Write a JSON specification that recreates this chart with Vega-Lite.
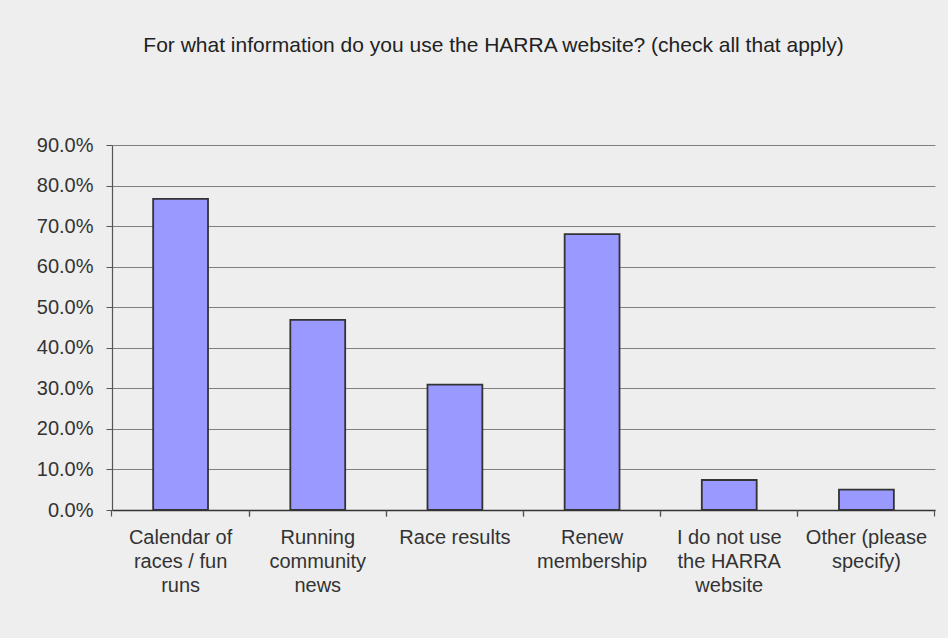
{
  "$schema": "https://vega.github.io/schema/vega-lite/v6.json",
  "autosize": "none",
  "width": 823,
  "height": 365,
  "padding": {"left": 112, "top": 145, "right": 13, "bottom": 128},
  "background": "#eeeeee",
  "title": {
    "text": "For what information do you use the HARRA website? (check all that apply)",
    "font": "Liberation Sans",
    "fontSize": 21,
    "fontWeight": "normal",
    "color": "#222222",
    "anchor": "middle",
    "dx": -30,
    "offset": 79
  },
  "data": {
    "values": [
      {"category": "Calendar of races / fun runs", "pct": 0.767},
      {"category": "Running community news", "pct": 0.469},
      {"category": "Race results", "pct": 0.309},
      {"category": "Renew membership", "pct": 0.680},
      {"category": "I do not use the HARRA website", "pct": 0.074},
      {"category": "Other (please specify)", "pct": 0.050}
    ]
  },
  "config": {
    "view": {"stroke": null},
    "axis": {"labelFont": "Liberation Sans", "labelColor": "#333333", "labelFontSize": 20}
  },
  "resolve": {"axis": {"x": "independent"}},
  "layer": [
    {
      "mark": {"type": "bar", "fill": "#9999ff", "stroke": "#333333", "strokeWidth": 1.8},
      "encoding": {
        "x": {
          "field": "category",
          "type": "nominal",
          "sort": null,
          "scale": {"paddingInner": 0.6, "paddingOuter": 0.3},
          "axis": {
            "title": null,
            "orient": "bottom",
            "labelAngle": 0,
            "ticks": false,
            "domain": true,
            "domainColor": "#333333",
            "domainWidth": 1.5,
            "labelPadding": 17,
            "labelBaseline": "top",
            "labelLineHeight": 24,
            "labelLimit": 200,
            "labelExpr": "datum.label == 'Calendar of races / fun runs' ? ['Calendar of', 'races / fun', 'runs'] : datum.label == 'Running community news' ? ['Running', 'community', 'news'] : datum.label == 'Renew membership' ? ['Renew', 'membership'] : datum.label == 'I do not use the HARRA website' ? ['I do not use', 'the HARRA', 'website'] : datum.label == 'Other (please specify)' ? ['Other (please', 'specify)'] : datum.label"
          }
        },
        "y": {
          "field": "pct",
          "type": "quantitative",
          "scale": {"domain": [0, 0.9], "nice": false},
          "axis": {
            "title": null,
            "format": ".1%",
            "values": [0, 0.1, 0.2, 0.3, 0.4, 0.5, 0.6, 0.7, 0.8, 0.9],
            "grid": true,
            "gridColor": "#808080",
            "gridWidth": 1.2,
            "gridOpacity": 1,
            "domainColor": "#555555",
            "domainWidth": 1.2,
            "tickColor": "#555555",
            "tickSize": 6,
            "labelPadding": 13
          }
        }
      }
    },
    {
      "mark": {"type": "bar", "opacity": 0},
      "encoding": {
        "x": {
          "field": "category",
          "type": "nominal",
          "sort": null,
          "axis": {
            "title": null,
            "orient": "bottom",
            "labels": false,
            "domain": false,
            "grid": false,
            "ticks": true,
            "tickColor": "#555555",
            "tickSize": 6,
            "tickWidth": 1.2,
            "bandPosition": -0.75
          }
        },
        "y": {"field": "pct", "type": "quantitative"}
      }
    },
    {
      "mark": {"type": "bar", "opacity": 0},
      "encoding": {
        "x": {
          "field": "category",
          "type": "nominal",
          "sort": null,
          "axis": {
            "title": null,
            "orient": "bottom",
            "labels": false,
            "domain": false,
            "grid": false,
            "ticks": true,
            "tickColor": "#555555",
            "tickSize": 6,
            "tickWidth": 1.2,
            "bandPosition": 1.75
          }
        },
        "y": {"field": "pct", "type": "quantitative"}
      }
    }
  ]
}
